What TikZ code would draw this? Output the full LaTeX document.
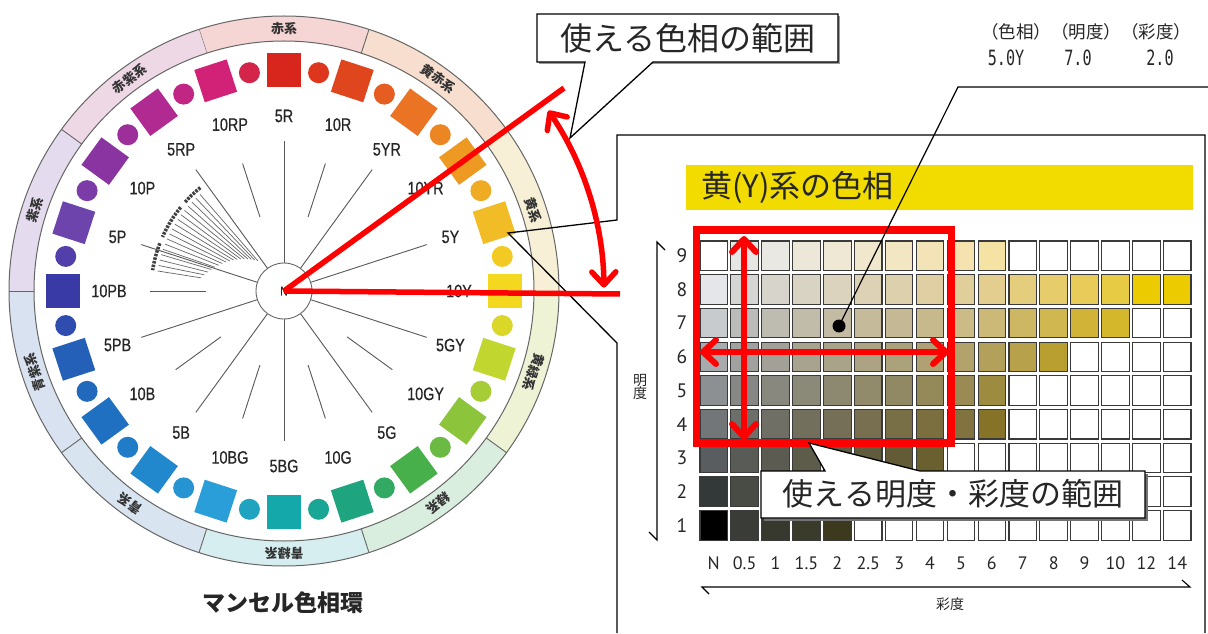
\documentclass[tikz,border=0pt]{standalone}
\usepackage{fontspec}
\setmainfont{Noto Sans CJK JP}
\newfontfamily\huefont[FakeStretch=0.8, FakeBold=0.5]{Liberation Sans}
\newfontfamily\gridfont{PT Sans}
\newfontfamily\numfont[FakeStretch=0.72]{DejaVu Sans Mono}
\usetikzlibrary{arrows.meta}
\definecolor{h0}{HTML}{D9261C}
\definecolor{h1}{HTML}{E0461E}
\definecolor{h2}{HTML}{EA7324}
\definecolor{h3}{HTML}{EE9A22}
\definecolor{h4}{HTML}{F2BC26}
\definecolor{h5}{HTML}{F4D820}
\definecolor{h6}{HTML}{C2D630}
\definecolor{h7}{HTML}{8CC43C}
\definecolor{h8}{HTML}{48B04A}
\definecolor{h9}{HTML}{1EA47E}
\definecolor{h10}{HTML}{14A8AA}
\definecolor{h11}{HTML}{2A9ED8}
\definecolor{h12}{HTML}{2288CE}
\definecolor{h13}{HTML}{2070C2}
\definecolor{h14}{HTML}{2460B8}
\definecolor{h15}{HTML}{3A3AA6}
\definecolor{h16}{HTML}{6C44AC}
\definecolor{h17}{HTML}{8A34A2}
\definecolor{h18}{HTML}{B02A92}
\definecolor{h19}{HTML}{D22278}
\definecolor{rR}{HTML}{F5D6D4}
\definecolor{rYR}{HTML}{F7DECF}
\definecolor{rY}{HTML}{F8F0D6}
\definecolor{rGY}{HTML}{EEF3D6}
\definecolor{rG}{HTML}{DAEEDF}
\definecolor{rBG}{HTML}{D6EEF0}
\definecolor{rB}{HTML}{D8E4F0}
\definecolor{rPB}{HTML}{D8E2F0}
\definecolor{rP}{HTML}{E4DCEE}
\definecolor{rRP}{HTML}{EFD8E6}
\definecolor{hdr}{HTML}{F2DC00}
\definecolor{txt}{HTML}{262626}
\definecolor{cellline}{HTML}{3A3A3A}
\tikzset{
  redline/.style={draw=red, line width=5.5},
  spoke/.style={draw=black!65, line width=0.9},
  hue/.style={font=\huefont\fontsize{18}{18}\selectfont, text=txt},
  ringlbl/.style={font=\bfseries\fontsize{13}{13}\selectfont, text=black!80},
  cellbox/.style={draw=cellline, line width=1.1, minimum width=27.5, minimum height=29.5, inner sep=0},
  glabel/.style={font=\gridfont\fontsize{18}{18}\selectfont, text=txt},
  rlabel/.style={font=\gridfont\fontsize{19.5}{19.5}\selectfont, text=txt},
  callout/.style={draw=black, line width=1.3, fill=white},
  calltext/.style={font=\fontsize{31}{31}\selectfont, text=txt},
  redtips/.style={{Straight Barb[length=13pt,width=24pt,round]}-{Straight Barb[length=13pt,width=24pt,round]}}
}
\begin{document}
\begin{tikzpicture}[x=1pt,y=1pt]
\useasboundingbox (0,0) rectangle (1208,633);
\fill[white] (0,0) rectangle (1208,633);

% ===== hue wheel =====
\begin{scope}[shift={(284,342)}]
  \foreach \nm/\col [count=\k from 0, evaluate=\k as \a using {90-36*\k}] in
    {赤系/rR,黄赤系/rYR,黄系/rY,黄緑系/rGY,緑系/rG,青緑系/rBG,青系/rB,青紫系/rPB,紫系/rP,赤紫系/rRP}{
    \fill[\col] ({\a-18}:275) arc[start angle={\a-18}, end angle={\a+18}, radius=275]
      -- ({\a+18}:250) arc[start angle={\a+18}, end angle={\a-18}, radius=250] -- cycle;
    \draw[black!60, line width=0.9] ({\a+18}:250) -- ({\a+18}:275);
    \node[ringlbl, rotate=\a-90, inner sep=0] (ring\k) at (\a:262.5) {\nm};
  }
  \draw[black!60, line width=1] (0,0) circle[radius=275];
  \draw[black!60, line width=1] (0,0) circle[radius=250];

  \foreach \lb [count=\i from 0, evaluate=\i as \a using {90-18*\i}, evaluate=\i as \j using {int(mod(\i+1,20))}] in
    {5R,10R,5YR,10YR,5Y,10Y,5GY,10GY,5G,10G,5BG,10BG,5B,10B,5PB,10PB,5P,10P,5RP,10RP}{
    \node[fill=h\i, minimum size=34, inner sep=0, rotate=\a] (sq\i) at (\a:221) {};
    \node[circle, fill=h\i!50!h\j, minimum size=21, inner sep=0] (dt\i) at ({\a-9}:221) {};
    \node[hue, inner sep=0] (lb\i) at (\a:175) {\lb};
  }
  % spokes at the 5-hues
  \foreach \i in {0,2,...,18}{
    \draw[spoke] ({90-18*\i}:28) -- ({90-18*\i}:150);
  }
  % short lines at the 10-hues
  \foreach \i in {1,3,5,7,9,11,13,15,19}{
    \draw[spoke] ({90-18*\i}:78) -- ({90-18*\i}:134);
  }
  % fan of fine lines
  \foreach \t [evaluate=\t as \rin using {40+(\t-131)*1.1}] in {131,133.5,...,172}{
    \draw[black!60, line width=0.7] (\t:\rin) -- (\t:128);
  }
  \draw[black!75, line width=3.5, dash pattern=on 2.5 off 1.2] (129:133) arc[start angle=129, end angle=138, radius=133];
  \draw[black!75, line width=3.5, dash pattern=on 2.5 off 1.2] (141:133) arc[start angle=141, end angle=156, radius=133];
  \draw[black!75, line width=3.5, dash pattern=on 2.5 off 1.2] (159:133) arc[start angle=159, end angle=171, radius=133];
  \node[circle, draw=black!60, fill=white, line width=0.9, minimum size=56, inner sep=0] (ncirc) at (0,0) {};
  \node[font=\huefont\fontsize{13}{13}\selectfont, text=txt] (nlbl) at (0,0) {N};
\end{scope}
\node[font=\bfseries\fontsize{23}{23}\selectfont, text=txt] (title) at (283,30) {マンセル色相環};

% ===== big frame callout (points to 5Y) =====
\coordinate (f1) at (617,0);
\coordinate (f2) at (617,290);
\coordinate (ftip) at (508,400);
\coordinate (f3) at (617,413);
\coordinate (f4) at (617,498);
\coordinate (f5) at (1205,498);
\coordinate (f6) at (1205,0);
\draw[black, line width=1.3] (f1) -- (f2) -- (ftip) -- (f3) -- (f4) -- (f5) -- (f6);

% header
\fill[hdr] (686,423) rectangle (1193,468);
\node[anchor=west, font=\fontsize{31}{31}\selectfont, text=txt, inner sep=0] (hdrtxt) at (701,446) {黄(Y)系の色相};

% top-right reading
\node[font=\fontsize{17.5}{17.5}\selectfont, text=txt] (hvc) at (1086,601) {（色相）（明度）（彩度）};
\node[font=\numfont\fontsize{21}{21}\selectfont, text=txt] (vh) at (1006,575) {5.0Y};
\node[font=\numfont\fontsize{21}{21}\selectfont, text=txt] (vv) at (1078,575) {7.0};
\node[font=\numfont\fontsize{21}{21}\selectfont, text=txt] (vc) at (1160,575) {2.0};

% ===== grid =====
\foreach \lst [count=\j from 0] in {
 {FFFFFF,E6E6E4,EAE8E2,EDE7DA,EFE8D4,F1E7CC,F2E6C3,F3E4B8,F4E3AE,F4E3A2,FFFFFF,FFFFFF,FFFFFF,FFFFFF,FFFFFF,FFFFFF},
 {E5E6EA,D5D5D3,D7D5CB,D9D3C3,DBD3BD,DDD2B5,DDD1AD,DFCFA3,E1CF9B,E3CD8F,E4CD7C,E7CC6C,E8CB59,E8CB45,ECCB00,ECCB00},
 {C8CBCE,BBBCB9,BEBCB1,C1BCA9,C3BBA3,C5BB9B,C5B995,C7B98B,CBBB87,CCB977,CEB763,D0B74F,D1B437,D4B72B,FFFFFF,FFFFFF},
 {A8ABAE,A1A29F,A3A197,A7A38F,A9A389,ABA383,ABA17B,AFA173,B1A36B,B3A15B,B7A14B,B89F2F,FFFFFF,FFFFFF,FFFFFF,FFFFFF},
 {8D9093,878885,89887E,8B8977,8D8971,918B6B,918963,938959,998B53,9D8B3F,FFFFFF,FFFFFF,FFFFFF,FFFFFF,FFFFFF,FFFFFF},
 {737678,6D6F6B,706F65,726F5D,756F57,776F4F,796F47,7B6F3F,81733F,877327,FFFFFF,FFFFFF,FFFFFF,FFFFFF,FFFFFF,FFFFFF},
 {595D5F,595B57,5B5B51,5D5B49,5F5B43,615B3D,635B35,695F2F,FFFFFF,FFFFFF,FFFFFF,FFFFFF,FFFFFF,FFFFFF,FFFFFF,FFFFFF},
 {333939,494C45,49493F,4B4939,4D4933,4F492B,FFFFFF,FFFFFF,FFFFFF,FFFFFF,FFFFFF,FFFFFF,FFFFFF,FFFFFF,FFFFFF,FFFFFF},
 {000000,393C37,37392F,3B3B2B,3D391F,FFFFFF,FFFFFF,FFFFFF,FFFFFF,FFFFFF,FFFFFF,FFFFFF,FFFFFF,FFFFFF,FFFFFF,FFFFFF}}{
  \foreach \hx [count=\i from 0] in \lst {
    \definecolor{tmpc}{HTML}{\hx}
    \node[cellbox, fill=tmpc] (c\j-\i) at ({713.75+30.9*\i}, {377.25-33.7*\j}) {};
  }
  \pgfmathtruncatemacro\val{9-\j}
  \node[rlabel] (row\j) at (682, {377.25-33.7*\j}) {\val};
}
\foreach \cl [count=\i from 0] in {N,0.5,1,1.5,2,2.5,3,4,5,6,7,8,9,10,12,14}{
  \node[glabel] (col\i) at ({713.75+30.9*\i}, 70) {\cl};
}
% axes
\coordinate (va) at (657,391);
\coordinate (vb) at (657,93);
\draw[black, line width=1.1] (665,383) -- (va) -- (vb) -- (649,101);
\node[font=\fontsize{14}{14}\selectfont, text=txt, align=center, inner sep=0] (vlbl) at (640,246) {明\\[-1pt]度};
\coordinate (ha) at (702,46);
\coordinate (hb) at (1190,46);
\draw[black, line width=1.1] (709,39) -- (ha) -- (hb) -- (1182,53);
\node[font=\fontsize{14}{14}\selectfont, text=txt] (hlbl) at (950,29) {彩度};

% red range box and arrows
\draw[draw=red, line width=7.5] (696.5,403) rectangle (951.5,190);
\coordinate (vt) at (744,397);
\coordinate (vbm) at (744,193);
\draw[redline, line width=6, redtips] (vt) -- (vbm);
\coordinate (hl) at (700,281);
\coordinate (hr) at (949,281);
\draw[redline, line width=6, redtips] (hl) -- (hr);

% dot and its pointer
\node[circle, fill=black, minimum size=13, inner sep=0] (dot) at (839,307) {};
\coordinate (bend) at (958,546);
\coordinate (pend) at (1208,546);
\draw[black, line width=1.2] (dot.center) -- (bend) -- (pend);

% callout 2
\fill[black!55] (764,112) rectangle (1148,159);
\draw[callout] (761,162) -- (825,162) -- (809,190) -- (920,162) -- (1145,162) -- (1145,115) -- (761,115) -- cycle;
\node[calltext] (co2) at (953,139) {使える明度・彩度の範囲};

% ===== red hue-range lines =====
\coordinate (rtop) at (564,545);
\coordinate (rhor) at (620,339);
\draw[redline] (ncirc.center) -- (rtop);
\draw[redline] (ncirc.center) -- (rhor);
\draw[redline, redtips] ([shift={(34.3:320)}]ncirc.center) arc[start angle=34.3, end angle=0.6, radius=320];

% callout 1
\fill[black!40] (539,569) rectangle (840,617);
\draw[callout] (537,571) -- (585,571) -- (570,495) -- (653,571) -- (838,571) -- (838,619) -- (537,619) -- cycle;
\node[font=\fontsize{32}{32}\selectfont, text=txt] (co1) at (688,595) {使える色相の範囲};
\end{tikzpicture}
\end{document}
